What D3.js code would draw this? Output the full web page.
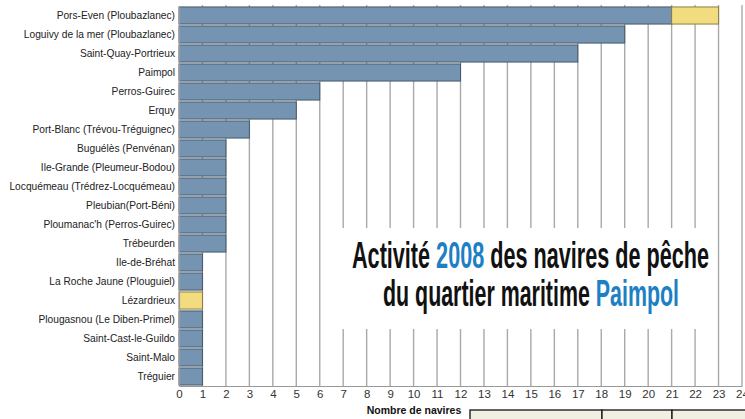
<!DOCTYPE html>
<html>
<head>
<meta charset="utf-8">
<script src="https://cdn.jsdelivr.net/npm/d3@7"></script>
<style>
   body { margin: 0; background: #fff; }
   svg { display: block; }
</style>
</head>
<body>
<div id="chart"></div>
<script>
// ports du quartier maritime
var ports = [
   "Pors-Even (Ploubazlanec)", "Loguivy de la mer (Ploubazlanec)", "Saint-Quay-Portrieux",
   "Paimpol", "Perros-Guirec", "Erquy", "Port-Blanc (Trévou-Tréguignec)",
   "Buguélès (Penvénan)", "Ile-Grande (Pleumeur-Bodou)", "Locquémeau (Trédrez-Locquémeau)",
   "Pleubian(Port-Béni)", "Ploumanac'h (Perros-Guirec)", "Trébeurden", "Ile-de-Bréhat",
   "La Roche Jaune (Plouguiel)", "Lézardrieux", "Plougasnou (Le Diben-Primel)",
   "Saint-Cast-le-Guildo", "Saint-Malo", "Tréguier"
];
var naviresBleu = [21, 19, 17, 12, 6, 5, 3, 2, 2, 2, 2, 2, 2, 1, 1, 0, 1, 1, 1, 1];
var naviresJaune = [2, 0, 0, 0, 0, 0, 0, 0, 0, 0, 0, 0, 0, 0, 0, 1, 0, 0, 0, 0];
var xTicks = d3.range(0, 25);

var W = 745, H = 419;
var svg = d3.select('#chart').append('svg')
   .attr('width', W)
   .attr('height', H);

var x = d3.scaleLinear().domain([0, 24]).range([179, 742]);
var y = d3.scaleBand().domain(ports).range([6, 386]).paddingInner(0.1).paddingOuter(0.05);

// grille verticale
svg.append('g')
   .selectAll('line')
   .data(xTicks.slice(1))
   .enter()
   .append('line')
   .attr('x1', function (d) { return x(d); })
   .attr('x2', function (d) { return x(d); })
   .attr('y1', 5)
   .attr('y2', 386)
   .attr('stroke', '#a9a9a9')
   .attr('stroke-width', 1.4);

// barres bleues
svg.append('g')
   .selectAll('rect')
   .data(ports)
   .enter()
   .append('rect')
   .attr('x', x(0))
   .attr('y', function (d) { return y(d); })
   .attr('width', function (d, i) { return x(naviresBleu[i]) - x(0); })
   .attr('height', y.bandwidth())
   .attr('fill', '#7594b2')
   .attr('stroke', '#46596b')
   .attr('stroke-width', 1)
   .style('display', function (d, i) { return naviresBleu[i] > 0 ? null : 'none'; });

// barres jaunes (empilées)
svg.append('g')
   .selectAll('rect')
   .data(ports)
   .enter()
   .append('rect')
   .attr('x', function (d, i) { return x(naviresBleu[i]); })
   .attr('y', function (d) { return y(d); })
   .attr('width', function (d, i) { return x(naviresBleu[i] + naviresJaune[i]) - x(naviresBleu[i]); })
   .attr('height', y.bandwidth())
   .attr('fill', '#f1dc80')
   .attr('stroke', '#8c7d45')
   .attr('stroke-width', 1)
   .style('display', function (d, i) { return naviresJaune[i] > 0 ? null : 'none'; });

// axe gauche
var yAxis = svg.append('g')
   .attr('transform', 'translate(' + x(0) + ',0)')
   .call(d3.axisLeft(y).tickSize(0).tickPadding(4));
yAxis.select('.domain').attr('stroke', '#999').attr('stroke-width', 1.2);
yAxis.selectAll('text')
   .attr('font-family', 'Liberation Sans, Arial, sans-serif')
   .attr('font-size', 10.2)
   .attr('fill', '#222');

// axe du bas
var xAxis = svg.append('g')
   .attr('transform', 'translate(0,386)')
   .call(d3.axisBottom(x).tickValues(xTicks).tickFormat(d3.format('d')).tickSize(0).tickPadding(4));
xAxis.select('.domain').attr('stroke', '#999').attr('stroke-width', 1.2);
xAxis.selectAll('text')
   .attr('font-family', 'Liberation Sans, Arial, sans-serif')
   .attr('font-size', 11.5)
   .attr('fill', '#333');

svg.append('text')
   .attr('x', 414)
   .attr('y', 414)
   .attr('text-anchor', 'middle')
   .attr('font-family', 'Liberation Sans, Arial, sans-serif')
   .attr('font-weight', 'bold')
   .attr('font-size', 10.5)
   .attr('fill', '#111')
   .text('Nombre de navires');

// cartouche du titre
svg.append('rect')
   .attr('x', 336)
   .attr('y', 228)
   .attr('width', 369)
   .attr('height', 101)
   .attr('fill', '#fff');

// titre : Arial gras comprimé horizontalement (scale)
function titleLine(x0, y0, width, parts) {
   var g = svg.append('g');
   var t = g.append('text')
      .attr('font-family', 'Liberation Sans, Arial, sans-serif')
      .attr('font-weight', 'bold')
      .attr('font-size', 37)
      .attr('fill', '#111');
   parts.forEach(function (p) {
      t.append('tspan').attr('fill', p[1]).text(p[0]);
   });
   var len = t.node().getComputedTextLength();
   g.attr('transform', 'translate(' + x0 + ',' + y0 + ') scale(' + (width / len) + ',1)');
}
titleLine(352, 268, 357, [['Activité ', '#111'], ['2008', '#1d80c3'], [' des navires de pêche', '#111']]);
titleLine(383, 306, 296, [['du quartier maritime ', '#111'], ['Paimpol', '#1d80c3']]);

// tableau coupé en bas à droite
var cells = [[470, 602], [602, 672], [672, 746]];
svg.append('g')
   .selectAll('rect')
   .data(cells)
   .enter()
   .append('rect')
   .attr('x', function (d) { return d[0]; })
   .attr('y', 410)
   .attr('width', function (d) { return d[1] - d[0]; })
   .attr('height', 14)
   .attr('fill', '#f1efe2')
   .attr('stroke', '#111')
   .attr('stroke-width', 1.3);
</script>
</body>
</html>
